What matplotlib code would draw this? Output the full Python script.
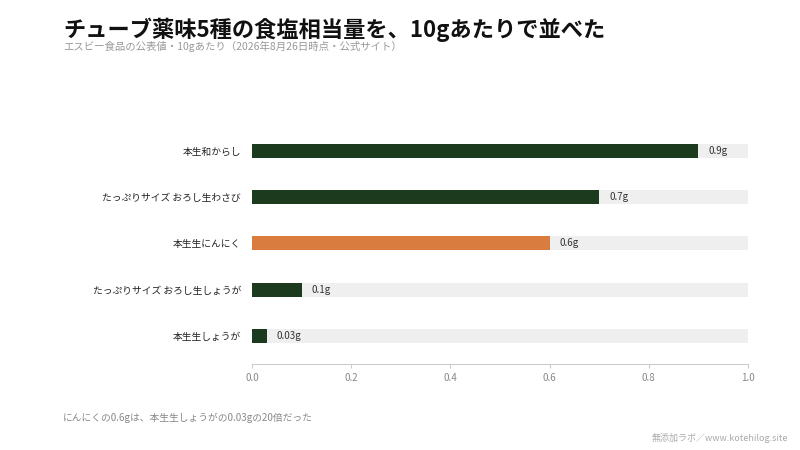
import matplotlib.pyplot as plt

plt.rcParams['font.family'] = ['Noto Sans CJK JP', 'DejaVu Sans']

labels = ['本生和からし', 'たっぷりサイズ おろし生わさび', '本生生にんにく',
          'たっぷりサイズ おろし生しょうが', '本生生しょうが']
values = [0.9, 0.7, 0.6, 0.1, 0.03]
value_labels = ['0.9g', '0.7g', '0.6g', '0.1g', '0.03g']
highlight = '本生生にんにく'

fig = plt.figure(figsize=(8, 4.5), dpi=100)
ax = fig.add_axes([0.315, 0.191, 0.62, 0.536])

y = list(range(len(labels)))
colors = ['#d97c3f' if l == highlight else '#1c3a1e' for l in labels]
ax.barh(y, [1.0] * len(labels), height=0.3, color='#efefef', zorder=1)
ax.barh(y, values, height=0.3, color=colors, zorder=2)
for yi, v, t in zip(y, values, value_labels):
    ax.text(v + 0.02, yi, t, va='center', ha='left', fontsize=7, color='#333333')

ax.set_yticks(y)
ax.set_yticklabels(labels, fontsize=7, color='#222222')
ax.set_ylim(len(labels) - 0.4, -0.6)
ax.set_xlim(0, 1.0)
ax.set_xticks([0, 0.2, 0.4, 0.6, 0.8, 1.0])
ax.set_xticklabels(['0.0', '0.2', '0.4', '0.6', '0.8', '1.0'], fontsize=7, color='#888888')
ax.tick_params(axis='y', length=0, pad=8)
ax.tick_params(axis='x', length=3, color='#cccccc')
for s in ['top', 'right', 'left']:
    ax.spines[s].set_visible(False)
ax.spines['bottom'].set_color('#cccccc')

fig.text(0.079, 0.933, 'チューブ薬味5種の食塩相当量を、10gあたりで並べた',
         fontsize=16, fontweight='bold', color='#111111', va='center')
fig.text(0.079, 0.897, 'エスビー食品の公表値・10gあたり（2026年8月26日時点・公式サイト）',
         fontsize=7.5, color='#999999', va='center')
fig.text(0.079, 0.071, 'にんにくの0.6gは、本生生しょうがの0.03gの20倍だった',
         fontsize=7, color='#888888', va='center')
fig.text(0.985, 0.027, '無添加ラボ／www.kotehilog.site',
         fontsize=6.5, color='#aaaaaa', va='center', ha='right')

fig.savefig('out.png', dpi=100)
